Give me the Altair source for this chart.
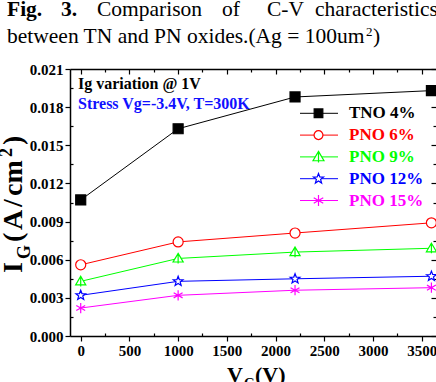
import altair as alt
import pandas as pd

# ---------------- data ----------------
vg = [0, 1000, 2200, 3600]
series_names = ["TNO 4%", "PNO 6%", "PNO 9%", "PNO 12%", "PNO 15%"]
tno4 = [0.0107, 0.0163, 0.0188, 0.0193]
pno6 = [0.0056, 0.0074, 0.0081, 0.0089]
pno9 = [0.0043, 0.0061, 0.0066, 0.0069]
pno12 = [0.0032, 0.0043, 0.0045, 0.0047]
pno15 = [0.0022, 0.0032, 0.0036, 0.0038]

x_major = [0, 500, 1000, 1500, 2000, 2500, 3000, 3500]
x_minor = [250, 750, 1250, 1750, 2250, 2750, 3250]
y_major = [0.000, 0.003, 0.006, 0.009, 0.012, 0.015, 0.018, 0.021]
y_minor = [0.0015, 0.0045, 0.0075, 0.0105, 0.0135, 0.0165, 0.0195]

title_words_1 = ["Fig.", "3.", "Comparison", "of", "C-V", "characteristics"]
title_bold_1 = [True, True, False, False, False, False]
title_line_2 = "between TN and PN oxides.(Ag = 100um"
title_sup_2 = "2"
title_close_2 = ")"
note_1 = "Ig variation @ 1V"
note_2 = "Stress Vg=-3.4V, T=300K"
y_title_parts = ["I", "G", "(", "A", "/", "cm", "2", ")"]
x_title_parts = ["V", "G", "(V)"]

# ---------------- styles ----------------
FONT = "'Liberation Serif', 'Times New Roman', Times, 'DejaVu Serif', serif"
W, H = 366, 267
colors = ["#000000", "#FF0000", "#00FF00", "#0000FF", "#FF00FF"]
fills = ["#000000", "#FFFFFF", "#FFFFFF", "#FFFFFF", "#FFFFFF"]
TRI = "M0,-1L1,0.7L-1,0.7Z M0,-1L0,1"
STAR = ("M0,-1L0.247,-0.34L0.951,-0.309L0.399,0.13L0.588,0.809L0,0.42"
        "L-0.588,0.809L-0.399,0.13L-0.951,-0.309L-0.247,-0.34Z")
AST = "M0,-1L0,1M-0.87,-0.5L0.87,0.5M-0.87,0.5L0.87,-0.5"
shapes = ["square", "circle", TRI, STAR, AST]
sizes = [100, 105, 160, 150, 160]

rows = []
for name, vals in zip(series_names, [tno4, pno6, pno9, pno12, pno15]):
    for x, v in zip(vg, vals):
        rows.append({"series": name, "vg": x, "ig": v})
df = pd.DataFrame(rows)

xs = alt.Scale(domain=[-110, 3647], nice=False, zero=False)
ys = alt.Scale(domain=[0, 0.021], nice=False, zero=False)

lab = dict(labelFont=FONT, labelFontWeight="bold", labelFontSize=15, labelColor="black")


def tick_axis(orient, values, size, offset):
    return alt.Axis(orient=orient, values=values, tickSize=size, offset=offset,
                    labels=False, domain=False, grid=False, title=None,
                    tickColor="black", tickWidth=1.2)


ax_bottom = alt.Axis(orient="bottom", values=x_major, format="d", tickSize=5,
                     tickWidth=1.2, tickColor="black", domainColor="black",
                     domainWidth=1.5, labelPadding=2, labelFlush=False,
                     grid=False, title=None, **lab)
ax_left = alt.Axis(orient="left", values=y_major, format=".3f", tickSize=5,
                   tickWidth=1.2, tickColor="black", domainColor="black",
                   domainWidth=1.5, labelPadding=2, labelFlush=False,
                   grid=False, title=None, **lab)

lines = alt.Chart(df).mark_line(strokeWidth=1).encode(
    x=alt.X("vg:Q", scale=xs, axis=ax_bottom),
    y=alt.Y("ig:Q", scale=ys, axis=ax_left),
    color=alt.Color("series:N", scale=alt.Scale(domain=series_names, range=colors), legend=None),
)

points = alt.Chart(df).mark_point(opacity=1, strokeWidth=1.2).encode(
    x=alt.X("vg:Q", scale=xs, axis=tick_axis("bottom", x_minor, 3, -3)),
    y=alt.Y("ig:Q", scale=ys, axis=tick_axis("left", y_minor, 3, -3)),
    shape=alt.Shape("series:N", scale=alt.Scale(domain=series_names, range=shapes), legend=None),
    stroke=alt.Stroke("series:N", scale=alt.Scale(domain=series_names, range=colors), legend=None),
    fill=alt.Fill("series:N", scale=alt.Scale(domain=series_names, range=fills), legend=None),
    size=alt.Size("series:N", scale=alt.Scale(domain=series_names, range=sizes), legend=None),
)

ghost3 = alt.Chart(df).mark_point(opacity=0).encode(
    x=alt.X("vg:Q", scale=xs, axis=tick_axis("top", x_major, 5, -5)),
    y=alt.Y("ig:Q", scale=ys, axis=tick_axis("right", y_major, 5, -5)),
)
ghost4 = alt.Chart(df).mark_point(opacity=0).encode(
    x=alt.X("vg:Q", scale=xs, axis=tick_axis("top", x_minor, 3, -3)),
    y=alt.Y("ig:Q", scale=ys, axis=tick_axis("right", y_minor, 3, -3)),
)
ghost5 = alt.Chart(df).mark_point(opacity=0).encode(
    x=alt.X("vg:Q", scale=xs, axis=alt.Axis(orient="top", ticks=False, labels=False,
                                            domain=True, domainColor="black",
                                            domainWidth=1.5, grid=False, title=None)),
    y=alt.Y("ig:Q", scale=ys, axis=None),
)


def txt(s, x, y, size, bold=True, color="black", angle=0, baseline="alphabetic", align="left"):
    kw = dict(align=align, baseline=baseline, font=FONT, fontSize=size,
              fontWeight="bold" if bold else "normal", color=color)
    if angle:
        kw["angle"] = angle
    return alt.Chart(alt.Data(values=[{"t": s}])).mark_text(**kw).encode(
        x=alt.value(x), y=alt.value(y), text="t:N")


texts = []
# figure caption
word_x = [-63, -9, 27, 152, 197, 245]
for w, b, xx in zip(title_words_1, title_bold_1, word_x):
    texts.append(txt(w, xx, -53, 21.5, bold=b))
texts.append(txt(title_line_2, -63, -26, 21.5, bold=False))
texts.append(txt(title_sup_2, 296, -33, 13, bold=False))
texts.append(txt(title_close_2, 303, -26, 21.5, bold=False))

# notes in plot
texts.append(txt(note_1, 8, 20, 16))
texts.append(txt(note_2, 8, 40, 16, color="#1010FF"))

# y title pieces (rotated, reading bottom to top)
yt_x = [-48, -40, -48, -48, -48, -48, -58, -48]
yt_y = [204, 190, 173, 161, 138, 127, 88, 76]
yt_size = [28, 18, 28, 28, 28, 28, 18, 28]
for p, xx, yy, sz in zip(y_title_parts, yt_x, yt_y, yt_size):
    texts.append(txt(p, xx, yy, sz, angle=270))

# x title pieces
xt_x = [157, 174, 185]
xt_y = [312.5, 319, 312.5]
xt_size = [22, 14, 22]
for p, xx, yy, sz in zip(x_title_parts, xt_x, xt_y, xt_size):
    texts.append(txt(p, xx, yy, sz))

# legend
leg_y = [44.3, 66.1, 87.9, 109.7, 131.5]
legend = []
for i, name in enumerate(series_names):
    one = alt.Data(values=[{"s": name}])
    legend.append(alt.Chart(one).mark_rule(color=colors[i], strokeWidth=1).encode(
        x=alt.value(230), x2=alt.value(268), y=alt.value(leg_y[i])))
    legend.append(alt.Chart(one).mark_point(shape=shapes[i], size=sizes[i] * 0.75,
                                            stroke=colors[i], fill=fills[i],
                                            strokeWidth=1.2, opacity=1, fillOpacity=1).encode(
        x=alt.value(248.5), y=alt.value(leg_y[i])))
    legend.append(alt.Chart(one).mark_text(align="left", baseline="middle", font=FONT,
                                           fontWeight="bold", fontSize=17,
                                           color=colors[i]).encode(
        x=alt.value(279), y=alt.value(leg_y[i]), text="s:N"))

chart = alt.layer(lines, points, ghost3, ghost4, ghost5, *texts, *legend).resolve_axis(
    x="independent", y="independent"
).properties(
    width=W, height=H,
    padding={"left": 70, "top": 69, "right": 0, "bottom": 46},
    autosize=alt.AutoSizeParams(type="none"),
    background="white",
).configure_view(stroke="transparent")

chart.save("out.html", embed_options={"renderer": "svg", "actions": False})
